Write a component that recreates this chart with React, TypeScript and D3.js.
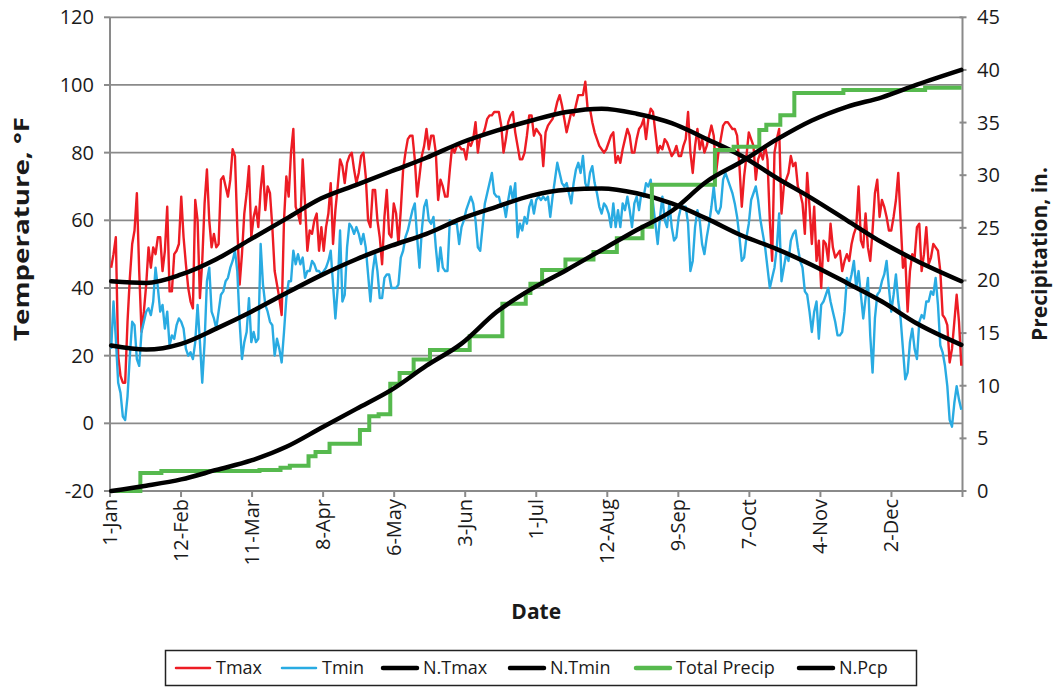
import React from 'react';
import * as d3 from 'd3';

// Daily maximum temperature (°F), day 0 = 1-Jan
const tmax: number[] = [
  46, 50, 55, 20, 14, 12, 12, 30, 43, 53,
  57, 68, 45, 27, 33, 41, 52, 46, 52, 50,
  55, 55, 45, 51, 64, 39, 39, 50, 51, 53,
  67, 55, 47, 40, 36, 34, 66, 60, 37, 48,
  65, 75, 60, 52, 56, 52, 53, 72, 73, 70,
  67, 72, 81, 79, 58, 41, 50, 62, 68, 76,
  55, 61, 64, 58, 69, 76, 63, 70, 68, 58,
  45, 41, 37, 32, 60, 73, 67, 80, 87, 64,
  62, 59, 78, 65, 51, 57, 56, 60, 62, 51,
  58, 51, 58, 62, 71, 53, 63, 70, 78, 76,
  71, 77, 79, 80, 75, 71, 74, 79, 80, 73,
  60, 58, 69, 69, 60, 55, 47, 61, 69, 56,
  55, 65, 62, 53, 63, 75, 80, 84, 85, 85,
  78, 67, 73, 79, 82, 87, 81, 85, 85, 80,
  66, 72, 70, 67, 67, 75, 82, 80, 82, 82,
  81, 81, 78, 83, 82, 84, 89, 80, 85, 85,
  87, 90, 91, 91, 92, 92, 92, 88, 80, 84,
  89, 91, 92, 86, 82, 78, 78, 80, 85, 91,
  91, 85, 87, 86, 85, 76, 86, 88, 89, 90,
  92, 95, 97, 94, 90, 86, 89, 92, 91, 94,
  97, 97, 97, 101, 93, 93, 89, 86, 84, 82,
  81, 80, 81, 83, 85, 86, 77, 79, 77, 81,
  84, 87, 85, 80, 80, 84, 87, 88, 90, 84,
  90, 93, 92, 86, 80, 82, 81, 84, 83, 81,
  79, 80, 82, 79, 79, 82, 84, 92, 80, 74,
  82, 87, 81, 84, 80, 82, 85, 88, 85, 74,
  80, 84, 88, 89, 89, 88, 87, 87, 85, 76,
  64, 73, 79, 86, 84, 82, 72, 78, 80, 78,
  82, 78, 60, 48, 80, 84, 87, 62, 70, 72,
  74, 79, 76, 77, 70, 68, 65, 56, 74, 64,
  53, 64, 48, 54, 40, 54, 53, 48, 59, 52,
  49, 50, 51, 45, 48, 50, 48, 53, 56, 58,
  70, 54, 52, 62, 52, 48, 57, 68, 72, 61,
  66, 64, 61, 57, 57, 61, 66, 74, 60, 46,
  49, 33, 45, 50, 49, 58, 59, 45, 50, 58,
  47, 49, 53, 52, 51, 45, 32, 31, 29, 18,
  22, 30, 38, 30, 17,
];

// Daily minimum temperature (°F)
const tmin: number[] = [
  22, 36, 25, 12, 9, 2, 1, 8, 20, 30,
  29, 19, 17, 27, 30, 33, 34, 32, 36, 46,
  40, 33, 35, 28, 33, 23, 26, 25, 29, 31,
  30, 28, 22, 20, 21, 19, 24, 35, 24, 12,
  24, 42, 46, 33, 31, 28, 33, 38, 39, 42,
  43, 46, 48, 51, 45, 30, 19, 24, 27, 37,
  24, 27, 24, 25, 53, 41, 35, 33, 30, 29,
  20, 25, 22, 18, 27, 37, 42, 42, 51, 47,
  50, 47, 49, 43, 45, 45, 48, 47, 45, 45,
  44, 45, 46, 48, 51, 41, 31, 40, 57, 36,
  38, 52, 59, 58, 56, 58, 56, 53, 56, 52,
  44, 36, 45, 50, 45, 37, 37, 43, 44, 44,
  40, 40, 40, 41, 49, 51, 55, 57, 60, 63,
  65, 55, 46, 57, 64, 66, 60, 59, 61, 52,
  45, 52, 46, 45, 45, 60, 59, 59, 59, 53,
  58, 60, 63, 65, 67, 65, 60, 52, 51, 58,
  65, 68, 71, 74, 68, 67, 67, 64, 65, 61,
  66, 70, 66, 71, 55, 59, 57, 61, 59, 64,
  66, 62, 66, 67, 66, 67, 66, 67, 61, 67,
  72, 77, 74, 71, 70, 71, 68, 65, 71, 75,
  77, 74, 79, 71, 69, 74, 76, 71, 68, 64,
  62, 65, 64, 62, 58, 65, 58, 63, 58, 65,
  63, 67, 63, 58, 65, 67, 63, 68, 67, 71,
  70, 72, 65, 59, 53, 61, 67, 60, 58, 65,
  58, 54, 55, 61, 64, 64, 64, 59, 45, 48,
  58, 63, 60, 53, 50, 55, 59, 64, 70, 63,
  62, 64, 72, 74, 72, 70, 68, 65, 61, 55,
  48, 49, 55, 59, 66, 68, 70, 66, 60, 56,
  52, 46, 40, 43, 46, 52, 62, 42, 46, 50,
  48, 54, 56, 57, 52, 48, 46, 39, 38, 33,
  27, 33, 36, 25, 35, 36, 38, 40, 36, 33,
  30, 26, 26, 27, 33, 43, 41, 44, 48, 40,
  45, 38, 31, 37, 43, 26, 15, 31, 38, 39,
  42, 44, 48, 40, 33, 38, 44, 36, 31, 22,
  13, 15, 24, 28, 22, 19, 30, 32, 31, 36,
  36, 39, 38, 43, 35, 23, 21, 17, 11, 1,
  -1, 6, 11, 7, 4,
];

// Normals, read at these days of the year
const normalDays: number[] = [0, 15, 30, 45, 60, 75, 90, 105, 120, 135, 150, 165, 180, 195, 210, 225, 240, 255, 270, 285, 300, 315, 330, 345, 364];
const nTmax: number[] = [42, 41.5, 44, 48.5, 54.5, 60.5, 66.5, 70.5, 74.5, 78.5, 83, 86.5, 89.5, 92, 93, 91.5, 88.7, 84, 79, 72.5, 66.5, 60, 53.5, 48, 42];
const nTmin: number[] = [23, 21.8, 23.5, 28, 33, 38.5, 43.8, 48.5, 52.5, 56, 60.5, 64, 67.3, 69, 69.4, 68, 65, 60.5, 55.5, 51.5, 46.8, 41.5, 36, 29.5, 23.2];
const nPcp: number[] = [0, 0.5, 1.1, 2.0, 2.9, 4.2, 6.0, 7.8, 9.6, 11.9, 14.0, 17.0, 19.2, 21.0, 22.9, 24.8, 26.6, 29.4, 31.3, 33.4, 35.2, 36.5, 37.4, 38.6, 40];

// Cumulative precipitation (in.) – day where each new total starts
const precipDays: number[] = [0, 13, 22, 64, 73, 77, 85, 88, 94, 107, 111, 115, 120, 124, 130, 137, 154, 168, 178, 180, 185, 195, 207, 217, 228, 232, 259, 267, 278, 281, 287, 293, 314, 349, 365];
const precipTotals: number[] = [0, 1.7, 1.9, 2.0, 2.2, 2.4, 3.3, 3.7, 4.5, 5.8, 7.1, 7.3, 10.2, 11.2, 12.5, 13.4, 14.7, 17.8, 18.8, 19.7, 21.0, 22.0, 22.7, 24.0, 25.1, 29.1, 32.4, 32.7, 34.3, 34.8, 35.7, 37.8, 38.1, 38.3, 38.3];

const xTickLabels: string[] = ['1-Jan', '12-Feb', '11-Mar', '8-Apr', '6-May', '3-Jun', '1-Jul', '12-Aug', '9-Sep', '7-Oct', '4-Nov', '2-Dec'];
const tempTicks: number[] = [-20, 0, 20, 40, 60, 80, 100, 120];
const precipTicks: number[] = [0, 5, 10, 15, 20, 25, 30, 35, 40, 45];
const legendLabels: string[] = ['Tmax', 'Tmin', 'N.Tmax', 'N.Tmin', 'Total Precip', 'N.Pcp'];

const COLORS: Record<string, string> = {
  Tmax: '#ED1C24',
  Tmin: '#29ABE2',
  'N.Tmax': '#000000',
  'N.Tmin': '#000000',
  'Total Precip': '#56B94E',
  'N.Pcp': '#000000',
};
const WIDTHS: Record<string, number> = {
  Tmax: 2.4,
  Tmin: 2.4,
  'N.Tmax': 4.5,
  'N.Tmin': 4.5,
  'Total Precip': 4,
  'N.Pcp': 4.5,
};

const W = 1057;
const H = 690;
const L = 110;
const R = 962.5;
const T = 17.3;
const B = 491;
const FONT = '"Open Sans", "DejaVu Sans", sans-serif';
const GRID = '#8a8a8a';

export default function App() {
  const x = d3.scaleLinear().domain([0, 365]).range([L, R]);
  const yT = d3.scaleLinear().domain([-20, 120]).range([B, T]);
  const yP = d3.scaleLinear().domain([0, 45]).range([B, T]);

  const dailyLine = d3
    .line<number>()
    .x((_, i) => x(i + 0.5))
    .y((v) => yT(v));

  const normalLine = (vals: number[], sc: d3.ScaleLinear<number, number>) =>
    d3
      .line<number>()
      .x((_, i) => x(normalDays[i] + 0.5))
      .y((v) => sc(v))
      .curve(d3.curveMonotoneX)(vals) as string;

  const precipLine = d3
    .line<number>()
    .x((_, i) => x(Math.min(precipDays[i], 364.6)))
    .y((v) => yP(v))
    .curve(d3.curveStepAfter)(precipTotals) as string;

  const xTickPos = d3.range(13).map((i) => x((i * 365) / 12));

  const legendX = [176, 282, 383, 510, 636, 799];

  return (
    <svg
      width={W}
      height={H}
      viewBox={`0 0 ${W} ${H}`}
      style={{ position: 'absolute', left: 0, top: 0, background: '#fff' }}
      fontFamily={FONT}
    >
      <rect x={0} y={0} width={W} height={H} fill="#fff" />
      {tempTicks.map((t) => (
        <line key={'g' + t} x1={L} x2={R} y1={yT(t)} y2={yT(t)} stroke={GRID} strokeWidth={1.8} />
      ))}
      <line x1={L} x2={L} y1={T} y2={B} stroke={GRID} strokeWidth={2} />
      <line x1={R} x2={R} y1={T} y2={B} stroke={GRID} strokeWidth={2} />
      <line x1={L} x2={R} y1={B} y2={B} stroke={GRID} strokeWidth={2} />
      {tempTicks.map((t) => (
        <g key={'lt' + t}>
          <line x1={L - 6} x2={L} y1={yT(t)} y2={yT(t)} stroke={GRID} strokeWidth={2} />
          <text x={94} y={yT(t)} dy="0.35em" textAnchor="end" fontSize={20} fill="#1a1a1a">
            {t}
          </text>
        </g>
      ))}
      {precipTicks.map((p) => (
        <g key={'rt' + p}>
          <line x1={R - 3} x2={R + 4} y1={yP(p)} y2={yP(p)} stroke={GRID} strokeWidth={2} />
          <text x={977} y={yP(p)} dy="0.35em" textAnchor="start" fontSize={20} fill="#1a1a1a">
            {p}
          </text>
        </g>
      ))}
      {xTickPos.map((px, i) => (
        <line key={'bt' + i} x1={px} x2={px} y1={B} y2={B + 6} stroke={GRID} strokeWidth={2} />
      ))}
      {xTickLabels.map((lab, i) => (
        <text
          key={'bl' + i}
          transform={`translate(${xTickPos[i]},${B + 8}) rotate(-90)`}
          dy="0.35em"
          textAnchor="end"
          fontSize={20}
          fill="#1a1a1a"
        >
          {lab}
        </text>
      ))}

      <path d={dailyLine(tmax) as string} fill="none" stroke={COLORS.Tmax} strokeWidth={WIDTHS.Tmax} strokeLinejoin="round" />
      <path d={dailyLine(tmin) as string} fill="none" stroke={COLORS.Tmin} strokeWidth={WIDTHS.Tmin} strokeLinejoin="round" />
      <path d={normalLine(nTmax, yT)} fill="none" stroke={COLORS['N.Tmax']} strokeWidth={WIDTHS['N.Tmax']} strokeLinecap="round" />
      <path d={normalLine(nTmin, yT)} fill="none" stroke={COLORS['N.Tmin']} strokeWidth={WIDTHS['N.Tmin']} strokeLinecap="round" />
      <path d={precipLine} fill="none" stroke={COLORS['Total Precip']} strokeWidth={WIDTHS['Total Precip']} />
      <path d={normalLine(nPcp, yP)} fill="none" stroke={COLORS['N.Pcp']} strokeWidth={WIDTHS['N.Pcp']} strokeLinecap="round" />

      <text
        transform={`translate(29,229) rotate(-90)`}
        textAnchor="middle"
        fontSize={22}
        fontWeight="bold"
        fill="#1a1a1a"
        textLength={224}
        lengthAdjust="spacingAndGlyphs"
      >
        Temperature, °F
      </text>
      <text
        transform={`translate(1047,254) rotate(-90)`}
        textAnchor="middle"
        fontSize={21}
        fontWeight="bold"
        fill="#1a1a1a"
      >
        Precipitation, in.
      </text>
      <text x={(L + R) / 2} y={619} textAnchor="middle" fontSize={21} fontWeight="bold" fill="#1a1a1a">
        Date
      </text>

      <rect x={165.5} y={650.5} width={751} height={35} fill="#fff" stroke="#222" strokeWidth={1.5} />
      {legendLabels.map((lab, i) => (
        <g key={'lg' + i}>
          <line
            x1={legendX[i]}
            x2={legendX[i] + 34}
            y1={668}
            y2={668}
            stroke={COLORS[lab]}
            strokeWidth={WIDTHS[lab] > 3 ? 4.5 : 2.5}
            strokeLinecap="round"
          />
          <text x={legendX[i] + 40} y={668} dy="0.35em" fontSize={18} fill="#1a1a1a">
            {lab}
          </text>
        </g>
      ))}
    </svg>
  );
}
